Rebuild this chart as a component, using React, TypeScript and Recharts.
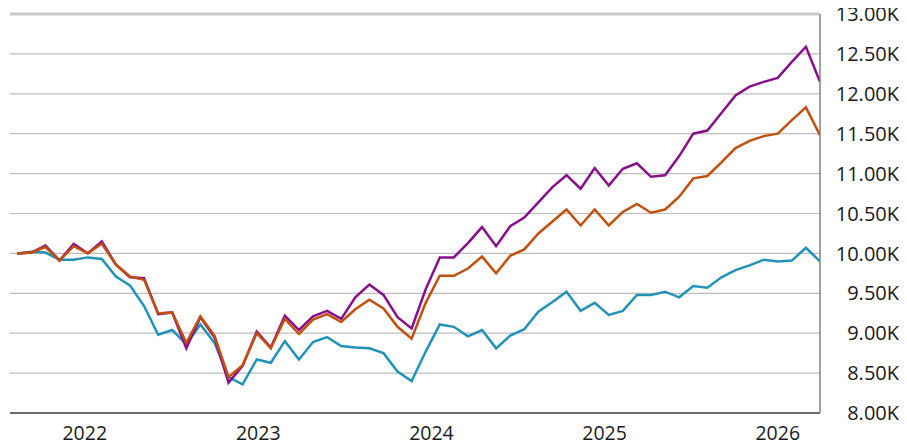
import React from "react";
import { LineChart, Line, XAxis, YAxis, CartesianGrid, ReferenceLine } from "recharts";

const purpleValues = [
  10000, 10010, 10100, 9910, 10120, 10000, 10150, 9860, 9700, 9690,
  9240, 9260, 8810, 9200, 8950, 8380, 8590, 9020, 8820, 9220,
  9040, 9210, 9280, 9180, 9450, 9610, 9480, 9200, 9060, 9550,
  9950, 9950, 10130, 10330, 10090, 10340, 10450, 10640, 10830, 10980,
  10810, 11070, 10850, 11060, 11130, 10960, 10980, 11220, 11500, 11540,
  11760, 11980, 12090, 12150, 12200, 12400, 12590, 12150,
];

const orangeValues = [
  10000, 10010, 10080, 9910, 10090, 10000, 10120, 9860, 9710, 9670,
  9250, 9260, 8880, 9210, 8970, 8450, 8600, 9000, 8810, 9180,
  8990, 9170, 9240, 9140, 9300, 9420, 9310, 9080, 8930, 9380,
  9720, 9720, 9810, 9960, 9750, 9970, 10050, 10250, 10400, 10550,
  10350, 10550, 10350, 10520, 10620, 10510, 10550, 10710, 10940, 10970,
  11140, 11320, 11410, 11470, 11500, 11670, 11830, 11480,
];

const tealValues = [
  10000, 10020, 10010, 9920, 9920, 9950, 9930, 9710, 9600, 9340,
  8980, 9040, 8860, 9110, 8880, 8450, 8360, 8670, 8630, 8900,
  8670, 8890, 8950, 8840, 8820, 8810, 8750, 8520, 8400, 8770,
  9110, 9080, 8960, 9040, 8810, 8970, 9050, 9270, 9390, 9520,
  9280, 9380, 9230, 9280, 9480, 9480, 9520, 9450, 9590, 9570,
  9700, 9790, 9850, 9920, 9900, 9910, 10070, 9900,
];

const yearLabels = ["2022", "2023", "2024", "2025", "2026"];
const yearTickPositions = [4.79, 17.11, 29.41, 41.7, 54.0];
const yTicks = [8000, 8500, 9000, 9500, 10000, 10500, 11000, 11500, 12000, 12500, 13000];

const data = purpleValues.map((p, i) => ({
  i,
  purple: p,
  orange: orangeValues[i],
  teal: tealValues[i],
}));

const FONT = "'Open Sans', 'Noto Sans', sans-serif";
const LABEL_RIGHT = 899;

const YTick = (props: any) => {
  const { y, payload } = props;
  return (
    <text
      x={LABEL_RIGHT}
      y={y}
      dy="0.355em"
      textAnchor="end"
      fontFamily={FONT}
      fontSize={20}
      fill="#1a1a1a"
    >
      {(payload.value / 1000).toFixed(2) + "K"}
    </text>
  );
};

const XTick = (props: any) => {
  const { x, y, payload } = props;
  const idx = yearTickPositions.indexOf(payload.value);
  return (
    <text
      x={x}
      y={y}
      dy="0.71em"
      textAnchor="middle"
      fontFamily={FONT}
      fontSize={19.5}
      fill="#1a1a1a"
    >
      {idx >= 0 ? yearLabels[idx] : ""}
    </text>
  );
};

export default function App() {
  return (
    <div style={{ width: 907, height: 448, marginTop: -8, marginLeft: -8 }}>
      <LineChart
        width={907}
        height={448}
        data={data}
        margin={{ top: 14, right: 7, bottom: 5, left: 10 }}
      >
        <CartesianGrid horizontal={true} vertical={false} stroke="#bdbdbd" strokeWidth={1.2} />
        <XAxis
          dataKey="i"
          type="number"
          domain={[-0.52, 57]}
          ticks={yearTickPositions}
          tick={<XTick />}
          tickLine={false}
          tickSize={6}
          tickMargin={7}
          axisLine={{ stroke: "#444", strokeWidth: 1.5 }}
          height={30}
          allowDataOverflow
          interval={0}
        />
        <YAxis
          orientation="right"
          domain={[8000, 13000]}
          ticks={yTicks}
          tick={<YTick />}
          tickLine={false}
          tickSize={0}
          tickMargin={0}
          axisLine={{ stroke: "#808080", strokeWidth: 1.5 }}
          width={80}
          interval={0}
          allowDataOverflow
        />
        <ReferenceLine y={13000} stroke="#c8c8c8" strokeWidth={3} />
        <Line
          type="linear"
          dataKey="teal"
          stroke="#2193b9"
          strokeWidth={2.5}
          dot={false}
          isAnimationActive={false}
        />
        <Line
          type="linear"
          dataKey="purple"
          stroke="#870f8c"
          strokeWidth={2.5}
          dot={false}
          isAnimationActive={false}
        />
        <Line
          type="linear"
          dataKey="orange"
          stroke="#c2500c"
          strokeWidth={2.5}
          dot={false}
          isAnimationActive={false}
        />
      </LineChart>
    </div>
  );
}
